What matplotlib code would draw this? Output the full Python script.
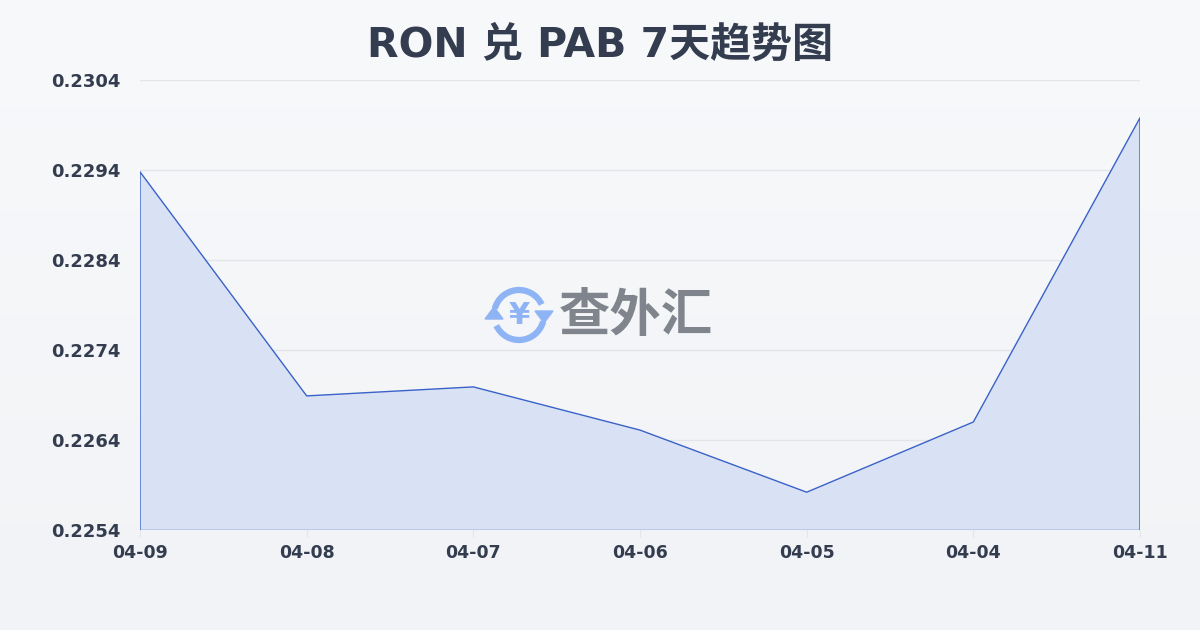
import numpy as np
import matplotlib
matplotlib.use("Agg")
from matplotlib import pyplot as plt
from matplotlib.patches import Arc, Polygon
from matplotlib.colors import LinearSegmentedColormap

plt.rcParams['font.family'] = ['DejaVu Sans', 'Noto Sans CJK SC']

# data
dates = ["04-09", "04-08", "04-07", "04-06", "04-05", "04-04", "04-11"]
rates = [0.22938, 0.22689, 0.22699, 0.22651, 0.22582, 0.2266, 0.22998]
yticks = [0.2254, 0.2264, 0.2274, 0.2284, 0.2294, 0.2304]
title = "RON 兑 PAB 7天趋势图"

fig = plt.figure(figsize=(12, 6.3), dpi=100)

# background gradient
bg = fig.add_axes([0, 0, 1, 1], zorder=-10)
grad = np.linspace(0, 1, 256).reshape(-1, 1)
cmap = LinearSegmentedColormap.from_list("bg", ["#f8f9fb", "#f1f3f6"])
bg.imshow(grad, aspect="auto", cmap=cmap, extent=[0, 1, 0, 1], origin="upper")
bg.set_axis_off()

ax = fig.add_axes([140 / 1200, 1 - 530 / 630, 1000 / 1200, 450 / 630])
ax.patch.set_alpha(0)
x = np.arange(len(dates))
ax.fill_between(x, rates, yticks[0], facecolor="#d9e2f5", edgecolor="none", zorder=2)
ax.plot(np.r_[x[0], x, x[-1]], np.r_[yticks[0], rates, yticks[0]], color="#3a62c8", lw=1, zorder=3)
ax.plot([x[0], x[-1]], [yticks[0], yticks[0]], color="#3a62c8", lw=1, zorder=3)

ax.set_xlim(x[0], x[-1])
ax.set_ylim(yticks[0], yticks[-1])
ax.set_yticks(yticks)
ax.set_yticklabels([f"{v:.4f}" for v in yticks])
ax.set_xticks(x)
ax.set_xticklabels(dates)
ax.grid(axis="y", color="#e3e5ea", lw=1, zorder=0)
for s in ax.spines.values():
    s.set_visible(False)
ax.tick_params(axis="y", length=0, pad=14, labelsize=13, labelcolor="#333d4f")
ax.tick_params(axis="x", length=5, color="#e3e5ea", pad=5, labelsize=12.5, labelcolor="#333d4f")
for lab in ax.get_xticklabels() + ax.get_yticklabels():
    lab.set_fontweight("bold")

fig.text(0.5, 1 - 46 / 630, title, ha="center", va="center", fontsize=29.5,
         fontweight="bold", color="#333d4f")

# watermark
wm = fig.add_axes([0, 0, 1, 1], zorder=5)
wm.set_xlim(0, 1200)
wm.set_ylim(630, 0)
wm.set_axis_off()
cx, cy, r = 519, 315, 25
wm.add_patch(Arc((cx, cy), 2 * r, 2 * r, theta1=195, theta2=335, color="#8fb4f5", lw=4.5))
wm.add_patch(Arc((cx, cy), 2 * r, 2 * r, theta1=15, theta2=155, color="#8fb4f5", lw=4.5))
wm.add_patch(Polygon([[cx + r - 9, cy - 4], [cx + r + 9, cy - 4], [cx + r, cy + 8]], color="#8fb4f5"))
wm.add_patch(Polygon([[cx - r - 9, cy + 4], [cx - r + 9, cy + 4], [cx - r, cy - 8]], color="#8fb4f5"))
wm.text(cx, cy + 1, "¥", ha="center", va="center", fontsize=22, fontweight="bold", color="#8fb4f5")
wm.text(559, 315, "查外汇", ha="left", va="center", fontsize=37, fontweight="bold",
        color="#80848c", family="Noto Sans CJK SC")

fig.savefig("out.png", dpi=100)
